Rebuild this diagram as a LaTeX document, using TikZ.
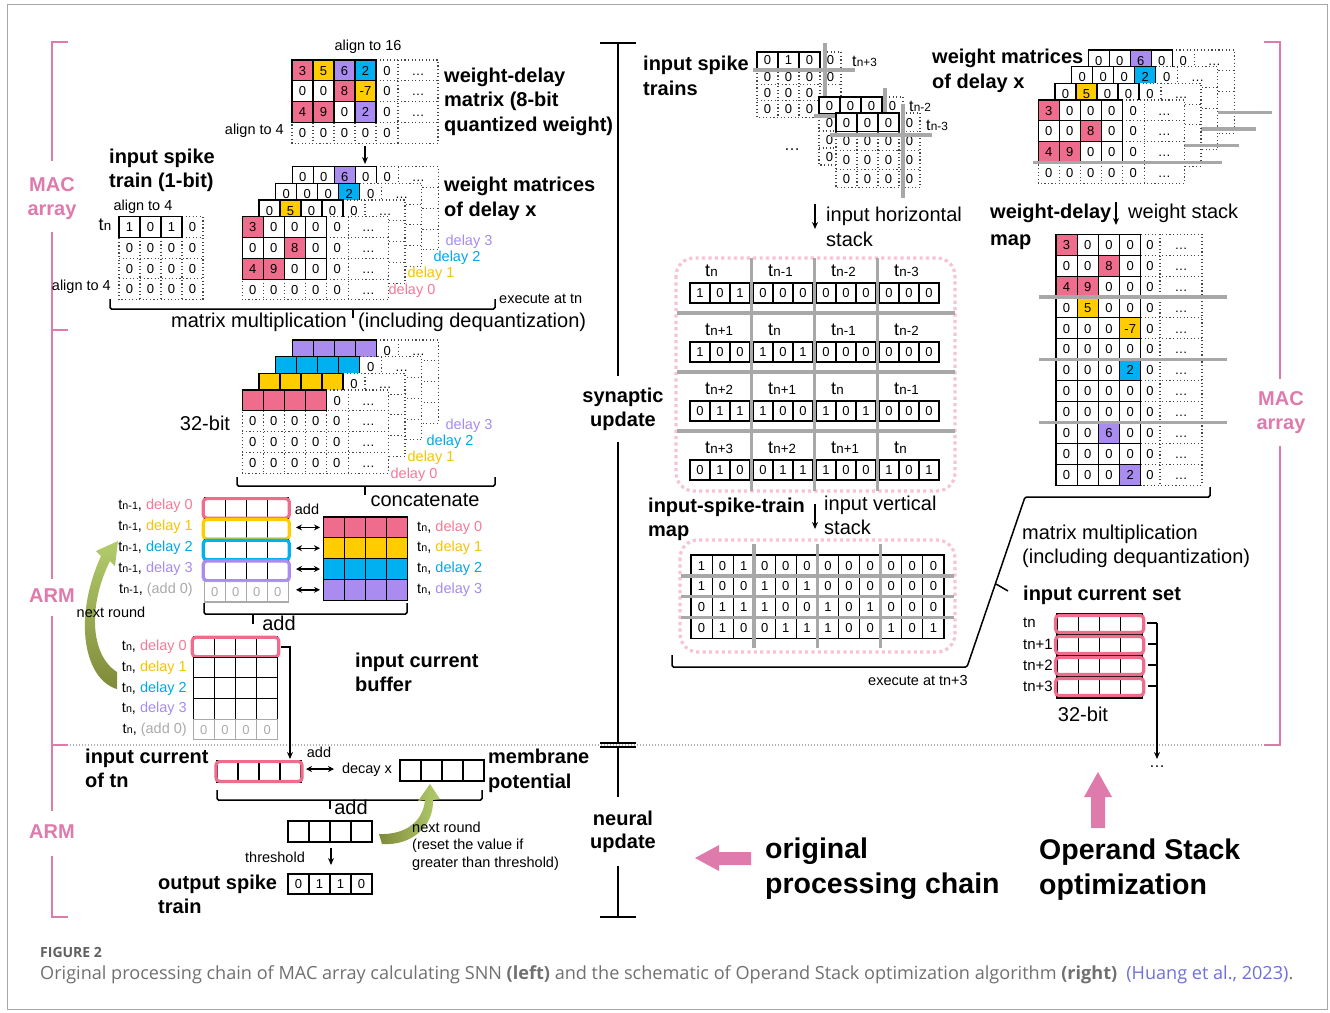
\documentclass[tikz,border=0pt]{standalone}
\usepackage{graphicx}
\usepackage{fontspec}
\setmainfont{Liberation Sans}
\newfontfamily\capfont{Open Sans}
\usetikzlibrary{arrows.meta}

\definecolor{cpink}{RGB}{240,108,140}
\definecolor{cyel}{RGB}{255,204,0}
\definecolor{cblue}{RGB}{0,176,240}
\definecolor{cpur}{RGB}{170,140,240}
\definecolor{tpink}{RGB}{246,122,152}
\definecolor{tyel}{RGB}{246,196,0}
\definecolor{tblue}{RGB}{0,168,232}
\definecolor{tpur}{RGB}{166,140,236}
\definecolor{brk}{RGB}{222,122,172}
\definecolor{sepgray}{RGB}{168,168,168}
\definecolor{olivegr}{RGB}{128,138,58}
\definecolor{lightgr}{RGB}{178,204,108}
\definecolor{dotpink}{RGB}{246,196,214}
\definecolor{capgray}{RGB}{96,96,96}
\definecolor{captext}{RGB}{112,112,112}
\definecolor{reflink}{RGB}{112,112,220}
\definecolor{zgray}{RGB}{170,170,170}

\newcommand\fs[1]{\fontsize{#1}{#1}\selectfont}
\newcommand\tsb[1]{t\kern.2pt\scalebox{0.74}{#1}}

\tikzset{
  cellS/.style={draw=black, line width=1.1pt},
  dotln/.style={draw=black!72, line width=1.15pt, dash pattern=on 1.15pt off 2.4pt},
  dig/.style={font=\fs{13}, inner sep=0pt, text height=9.3pt, text depth=0pt},
  blab/.style={font=\fs{20}\bfseries, inner sep=0pt, text height=14.4pt, text depth=4.2pt, anchor=west},
  rlab/.style={font=\fs{20}, inner sep=0pt, text height=14.4pt, text depth=4.2pt},
  slab/.style={font=\fs{14.5}, inner sep=0pt, text height=10.4pt, text depth=3pt},
  tlab/.style={font=\fs{18}, inner sep=0pt, text height=13pt, text depth=0pt},
  biglab/.style={font=\fs{28.5}\bfseries, inner sep=0pt, text height=20.5pt, text depth=6pt, anchor=west},
  sepln/.style={sepgray, line width=3.5pt},
  brace/.style={black, line width=1.5pt, rounded corners=1.5pt},
  pinkbr/.style={brk, line width=2pt},
  arr/.style={line width=1.4pt, -{Stealth[length=7pt,width=6pt]}},
  darr/.style={line width=1.4pt, {Stealth[length=6pt,width=6pt]}-{Stealth[length=6pt,width=6pt]}},
  hilite/.style={line width=3.2pt, rounded corners=3.5pt},
  pinkdots/.style={dotpink, line width=3.2pt, dash pattern=on 3.2pt off 3.2pt, rounded corners=18pt},
}

% one row of solid cells: x, y, cell width, cell height, list colour/value
\newcommand\crow[5]{%
  \foreach \cl/\vl [count=\ii from 0] in {#5}{%
    \draw[cellS, fill=\cl] ({#1+\ii*#3},{#2}) rectangle ++(#3,#4);
    \node[dig] at ({#1+(\ii+0.5)*#3},{#2+0.5*#4}) {\vl};}}

% dotted frame of a weight layer (padding column, ellipsis area, padding row)
\newcommand\wdots[2]{%
  \fill[white] (#1,#2) rectangle ++(146,83.2);
  \foreach \yy in {20.8,41.6,62.4} \draw[dotln] ({#1+84},{#2+\yy}) -- ({#1+146},{#2+\yy});
  \draw[dotln] ({#1+84},{#2}) -- ({#1+146},{#2}) -- ({#1+146},{#2+83.2}) -- ({#1},{#2+83.2}) -- ({#1},{#2+62.4});
  \draw[dotln] ({#1+106},{#2}) -- ({#1+106},{#2+83.2});
  \foreach \xx in {21,42,63,84} \draw[dotln] ({#1+\xx},{#2+62.4}) -- ({#1+\xx},{#2+83.2});}

% front weight layer: x, y, three solid rows, offsets of rows that carry dots
\newcommand\wlayer[6]{%
  \wdots{#1}{#2}%
  \foreach \yy in {0,20.8,41.6,62.4} \node[dig] at ({#1+95},{#2+\yy+10.4}) {0};
  \foreach \xx in {0,21,42,63} \node[dig] at ({#1+\xx+10.5},{#2+72.8}) {0};
  \foreach \yy in {#6} \node[dig] at ({#1+126},{#2+\yy+10.4}) {\dots};
  \crow{#1}{#2}{21}{20.8}{#3}%
  \crow{#1}{#2+20.8}{21}{20.8}{#4}%
  \crow{#1}{#2+41.6}{21}{20.8}{#5}}

% rear weight layer: only its top row shows
\newcommand\wback[3]{%
  \wdots{#1}{#2}%
  \foreach \xx in {0,21,42,63} \draw[cellS] ({#1+\xx},{#2+20.8}) rectangle ++(21,20.8);
  \node[dig] at ({#1+95},{#2+10.4}) {0};
  \node[dig] at ({#1+126},{#2+10.4}) {\dots};
  \crow{#1}{#2}{21}{20.8}{#3}}

% 32-bit result layer: x, y, colour, rows below filled with zeros (1) or not (0)
\newcommand\blayer[4]{%
  \fill[white] (#1,#2) rectangle ++(146,83.2);
  \foreach \yy in {20.8,41.6,62.4} \draw[dotln] ({#1},{#2+\yy}) -- ({#1+146},{#2+\yy});
  \draw[dotln] ({#1+84},{#2}) -- ({#1+146},{#2}) -- ({#1+146},{#2+83.2}) -- ({#1},{#2+83.2}) -- ({#1},{#2+20.8});
  \draw[dotln] ({#1+106},{#2}) -- ({#1+106},{#2+83.2});
  \foreach \xx in {21,42,63,84} \draw[dotln] ({#1+\xx},{#2+20.8}) -- ({#1+\xx},{#2+83.2});
  \node[dig] at ({#1+95},{#2+10.4}) {0};
  \node[dig] at ({#1+126},{#2+10.4}) {\dots};
  \ifnum#4=1
    \foreach \yy in {20.8,41.6,62.4} {\foreach \xx in {0,21,42,63,84} {\node[dig] at ({#1+\xx+10.5},{#2+\yy+10.4}) {0};}
      \node[dig] at ({#1+126},{#2+\yy+10.4}) {\dots};}
  \fi
  \foreach \xx in {0,21,42,63} \draw[cellS, fill=#3] ({#1+\xx},{#2}) rectangle ++(21,20.8);}

% 4x4 spike matrix, first three entries of the top row solid;
% #6 = number of visible zeros in each of the three lower rows
\newcommand\smat[6]{%
  \fill[white] (#1,#2) rectangle ++({4*#3},{4*#4});
  \draw[dotln] ({#1+3*#3},{#2}) -- ({#1+4*#3},{#2}) -- ({#1+4*#3},{#2+4*#4}) -- ({#1},{#2+4*#4}) -- ({#1},{#2+#4});
  \draw[dotln] ({#1+3*#3},{#2+#4}) -- ({#1+4*#3},{#2+#4});
  \foreach \kk in {2,3} \draw[dotln] ({#1},{#2+\kk*#4}) -- ({#1+4*#3},{#2+\kk*#4});
  \foreach \kk in {1,2,3} \draw[dotln] ({#1+\kk*#3},{#2+#4}) -- ({#1+\kk*#3},{#2+4*#4});
  \node[dig] at ({#1+3.5*#3},{#2+0.5*#4}) {0};
  \foreach \nn [count=\rr] in {#6} {\foreach \kk in {1,...,\nn} {\node[dig] at ({#1+(\kk-0.5)*#3},{#2+(\rr+0.5)*#4}) {0};}}
  \foreach \vv [count=\kk from 0] in {#5} {\draw[cellS] ({#1+\kk*#3},{#2}) rectangle ++(#3,#4);
    \node[dig] at ({#1+(\kk+0.5)*#3},{#2+0.5*#4}) {\vv};}}

% row of four empty cells framed by a coloured outline
\newcommand\hrow[5]{%
  \foreach \xx in {0,1,2,3} \draw[cellS, fill=white] ({#1+\xx*#3},{#2}) rectangle ++(#3,#4);
  \draw[hilite, draw=#5] ({#1-1},{#2+0.6}) rectangle ({#1+4*#3+1},{#2+#4-0.6});}

% grey row of zeros
\newcommand\zrow[4]{%
  \foreach \xx in {0,1,2,3} {\draw[zgray, line width=1.1pt] ({#1+\xx*#3},{#2}) rectangle ++(#3,#4);
    \node[dig, text=zgray] at ({#1+(\xx+0.5)*#3},{#2+0.5*#4}) {0};}}

\begin{document}
\begin{tikzpicture}[x=1pt,y=-1pt]
\useasboundingbox (0,0) rectangle (1330,1012);
\fill[white] (0,0) rectangle (1330,1012);
\draw[black!35, line width=0.8pt] (7,4) rectangle (1327,1009);

% ---------------- frames and section labels ----------------
\draw[pinkbr] (68,42) -- (52,42) -- (52,161);
\draw[pinkbr] (52,232) -- (52,579);
\draw[pinkbr] (52,330) -- (68,330);
\draw[pinkbr] (52,616) -- (52,811);
\draw[pinkbr] (52,745) -- (68,745);
\draw[pinkbr] (52,856) -- (52,917) -- (68,917);
\node[blab, anchor=center, text=brk] (macA) at (52,186) {MAC};
\node[blab, anchor=center, text=brk] (macB) at (52,210) {array};
\node[blab, anchor=center, text=brk] (armA) at (52,597) {ARM};
\node[blab, anchor=center, text=brk] (armB) at (52,833) {ARM};
\draw[pinkbr] (1264,42) -- (1280,42) -- (1280,379);
\draw[pinkbr] (1280,446) -- (1280,745) -- (1264,745);
\node[blab, anchor=center, text=brk] (macC) at (1281,400) {MAC};
\node[blab, anchor=center, text=brk] (macD) at (1281,424) {array};

\draw[black!30, line width=1.2pt, dash pattern=on 1.2pt off 1.8pt] (70,745) -- (1262,745);

\draw[line width=1.6pt] (600,43) -- (636,43) (618,43) -- (618,376) (618,442) -- (618,743)
  (600,743) -- (636,743) (600,747) -- (636,747) (618,747) -- (618,797) (618,866) -- (618,917) (600,917) -- (636,917);
\node[blab, anchor=center] (syn1) at (623,397) {synaptic};
\node[blab, anchor=center] (syn2) at (623,421) {update};
\node[blab, anchor=center] (neu1) at (623,820) {neural};
\node[blab, anchor=center] (neu2) at (623,843) {update};

% ---------------- left: weight-delay matrix ----------------
\node[slab] (al16) at (368,47) {align to 16};
\wlayer{292}{60}{cpink/3,cyel/5,cpur/6,cblue/2}{white/0,white/0,cpink/8,cyel/-7}{cpink/4,cpink/9,white/0,cpur/2}{0,20.8,41.6}
\node[slab, anchor=east] (al4a) at (284,131) {align to 4};
\node[blab] (wd1) at (444,77) {weight-delay};
\node[blab] (wd2) at (444,101) {matrix (8-bit};
\node[blab] (wd3) at (444,126) {quantized weight)};
\draw[arr] (365,146) -- (365,164);

% weight matrices of each delay
\wback{292.3}{166.7}{white/0,white/0,cpur/6,white/0}
\wback{275.7}{183.3}{white/0,white/0,white/0,cblue/2}
\wback{259}{200}{white/0,cyel/5,white/0,white/0}
\wlayer{242.3}{216.7}{cpink/3,white/0,white/0,white/0}{white/0,white/0,cpink/8,white/0}{cpink/4,cpink/9,white/0,white/0}{0,20.8,41.6,62.4}
\node[slab, text=tpur] (wl3) at (469,242) {delay 3};
\node[slab, text=tblue] (wl2) at (457,258) {delay 2};
\node[slab, text=tyel] (wl1) at (431,274) {delay 1};
\node[slab, text=tpink] (wl0) at (412,291) {delay 0};
\node[blab] (wm1) at (444,186) {weight matrices};
\node[blab] (wm2) at (444,211) {of delay x};

% input spike train
\node[blab] (ist1) at (109,158) {input spike};
\node[blab] (ist2) at (109,182) {train (1-bit)};
\node[slab] (al4b) at (143,207) {align to 4};
\node[tlab] (tnl) at (105,224) {\tsb{n}};
\smat{119}{216.5}{21}{20.8}{1,0,1}{4,4,4}
\node[slab, anchor=east] (al4c) at (111,287) {align to 4};

\draw[brace] (110,299) -- (110,309) -- (495,309) -- (495,299);
\draw[brace] (353,309) -- (353,318);
\node[rlab, anchor=east] (mm1) at (347,322) {matrix multiplication};
\node[rlab, anchor=west] (mm2) at (358,322) {(including dequantization)};
\node[slab, anchor=west] (ex1) at (499,300) {execute at tn};

% 32-bit products
\blayer{292.3}{340}{cpur}{0}
\blayer{275.7}{356.7}{cblue}{0}
\blayer{259}{373.3}{cyel}{0}
\blayer{242.3}{390}{cpink}{1}
\node[rlab] (b32) at (205,425) {32-bit};
\node[slab, text=tpur] (bl3) at (469,426) {delay 3};
\node[slab, text=tblue] (bl2) at (450,442) {delay 2};
\node[slab, text=tyel] (bl1) at (431,458) {delay 1};
\node[slab, text=tpink] (bl0) at (414,475) {delay 0};
\draw[brace] (237,477) -- (237,486) -- (495,486) -- (495,477);
\draw[brace] (365,486) -- (365,495);
\node[rlab] (conc) at (425,501) {concatenate};

% accumulation with the previous step
\hrow{204.3}{498}{21}{20.8}{cpink}
\hrow{204.3}{518.8}{21}{20.8}{cyel}
\hrow{204.3}{539.6}{21}{20.8}{cblue}
\hrow{204.3}{560.4}{21}{20.8}{cpur}
\zrow{204.3}{581.2}{21}{20.8}
\node[slab, anchor=east] at (193,506) {\tsb{n-1}, \textcolor{tpink}{delay 0}};
\node[slab, anchor=east] at (193,527) {\tsb{n-1}, \textcolor{tyel}{delay 1}};
\node[slab, anchor=east] at (193,548) {\tsb{n-1}, \textcolor{tblue}{delay 2}};
\node[slab, anchor=east] at (193,569) {\tsb{n-1}, \textcolor{tpur}{delay 3}};
\node[slab, anchor=east] at (193,590) {\tsb{n-1}, \textcolor{zgray}{(add 0)}};
\node[slab] (add1) at (307,511) {add};
\foreach \yy in {527.4,548.2,569,589.8} \draw[darr] (296,\yy) -- (320,\yy);
\crow{323.3}{517}{21}{20.8}{cpink/,cpink/,cpink/,cpink/}
\crow{323.3}{537.8}{21}{20.8}{cyel/,cyel/,cyel/,cyel/}
\crow{323.3}{558.6}{21}{20.8}{cblue/,cblue/,cblue/,cblue/}
\crow{323.3}{579.4}{21}{20.8}{cpur/,cpur/,cpur/,cpur/}
\node[slab, anchor=west] at (417,527.4) {\tsb{n}, \textcolor{tpink}{delay 0}};
\node[slab, anchor=west] at (417,548.2) {\tsb{n}, \textcolor{tyel}{delay 1}};
\node[slab, anchor=west] at (417,569) {\tsb{n}, \textcolor{tblue}{delay 2}};
\node[slab, anchor=west] at (417,589.8) {\tsb{n}, \textcolor{tpur}{delay 3}};
\draw[brace] (204,603) -- (204,614) -- (407,614) -- (407,603);
\draw[brace] (253,614) -- (253,624);
\node[rlab] (add2) at (279,625) {add};

% input current buffer
\hrow{193.3}{636.7}{21.1}{20.6}{cpink}
\crow{193.3}{657.3}{21.1}{20.6}{white/,white/,white/,white/}
\crow{193.3}{677.9}{21.1}{20.6}{white/,white/,white/,white/}
\crow{193.3}{698.5}{21.1}{20.6}{white/,white/,white/,white/}
\zrow{193.3}{719.1}{21.1}{20.6}
\node[slab, anchor=east] at (187,647) {\tsb{n}, \textcolor{tpink}{delay 0}};
\node[slab, anchor=east] at (187,668) {\tsb{n}, \textcolor{tyel}{delay 1}};
\node[slab, anchor=east] at (187,688.5) {\tsb{n}, \textcolor{tblue}{delay 2}};
\node[slab, anchor=east] at (187,709) {\tsb{n}, \textcolor{tpur}{delay 3}};
\node[slab, anchor=east] at (187,730) {\tsb{n}, \textcolor{zgray}{(add 0)}};
\node[blab] (icb1) at (355,662) {input current};
\node[blab] (icb2) at (355,686) {buffer};
\draw[arr] (281,647) -- (290,647) -- (290,759);

% feedback to the next round
\shade[top color=lightgr, bottom color=olivegr]
  (117,689) .. controls (85,680) and (72,620) .. (101,556) -- (96,551) -- (118,541)
  -- (115,566) -- (110,561) .. controls (88,605) and (90,655) .. (117,672) -- cycle;
\node[slab] (nr1) at (111,614) {next round};

% ---------------- neural update ----------------
\node[blab] (ic1) at (85,758) {input current};
\node[blab] (ic2) at (85,782) {of tn};
\hrow{217}{761}{21}{21}{cpink}
\node[slab] (add3) at (319,754) {add};
\draw[darr] (306,769) -- (334,769);
\node[slab] (dec) at (367,770) {decay x};
\crow{400}{760}{21}{21}{white/,white/,white/,white/}
\node[blab] (mp1) at (488,758) {membrane};
\node[blab] (mp2) at (488,783) {potential};
\draw[brace] (217,790) -- (217,800) -- (482,800) -- (482,790);
\draw[brace] (330,800) -- (330,809);
\node[rlab] (add4) at (351,809) {add};
\crow{288}{821}{21}{21}{white/,white/,white/,white/}
\draw[arr] (331,848) -- (331,865);
\node[slab] (thr) at (275,859) {threshold};
\crow{288}{874}{21}{20}{white/0,white/1,white/1,white/0}
\node[blab] (os1) at (158,884) {output spike};
\node[blab] (os2) at (158,908) {train};
\shade[left color=olivegr, right color=lightgr]
  (379,834) .. controls (405,835) and (423,822) .. (425,800) -- (418,801) -- (430,784)
  -- (440,799) -- (433,800) .. controls (434,826) and (412,846) .. (382,844) -- cycle;
\node[slab, anchor=west] (nr2) at (412,829) {next round};
\node[slab, anchor=west] (nr3) at (412,846) {(reset the value if};
\node[slab, anchor=west] (nr4) at (412,864) {greater than threshold)};

% ---------------- right: input spike trains ----------------
\node[blab] (ists1) at (643,65) {input spike};
\node[blab] (ists2) at (643,90) {trains};
\smat{757}{52}{21}{16.3}{0,1,0}{4,3,3}
\draw[sepln] (825,43) -- (825,118);
\draw[sepln] (753,70) -- (855,70);
\node[font=\fs{16}, inner sep=0pt, anchor=west] (tp3) at (852,61) {\tsb{n+3}};
\smat{819}{97}{21}{17}{0,0,0}{1,1,1}
\draw[sepln] (885,88) -- (885,150);
\draw[sepln] (814,116) -- (860,116);
\node[font=\fs{16}, inner sep=0pt, anchor=west] (tm2) at (909,106) {\tsb{n-2}};
\smat{836}{113}{21}{18.7}{0,0,0}{4,4,4}
\draw[sepln] (903,104) -- (903,198);
\draw[sepln] (830,135) -- (932,135);
\node[font=\fs{16}, inner sep=0pt, anchor=west] (tm3) at (926,125) {\tsb{n-3}};
\node[font=\fs{16}, inner sep=0pt] (ell1) at (792,150) {\dots};

% right: weight matrices of each delay
\node[blab] (rwm1) at (932,58) {weight matrices};
\node[blab] (rwm2) at (932,83) {of delay x};
\wback{1088.3}{50}{white/0,white/0,cpur/6,white/0}
\draw[sepln] (1083,112.4) -- (1272,112.4);
\wback{1071.7}{66.7}{white/0,white/0,white/0,cblue/2}
\draw[sepln] (1067,129.1) -- (1256,129.1);
\wback{1055}{83.3}{white/0,cyel/5,white/0,white/0}
\draw[sepln] (1050,145.7) -- (1239,145.7);
\wlayer{1038.3}{100}{cpink/3,white/0,white/0,white/0}{white/0,white/0,cpink/8,white/0}{cpink/4,cpink/9,white/0,white/0}{0,20.8,41.6,62.4}
\draw[sepln] (1033,162.4) -- (1222,162.4);

% horizontal stack
\draw[arr] (815,204) -- (815,229);
\node[rlab, anchor=west] (ihs1) at (826,216) {input horizontal};
\node[rlab, anchor=west] (ihs2) at (826,241) {stack};
\draw[pinkdots] (676,258) rectangle (955,491);
\foreach \rowv [count=\bk from 0] in {{1,0,1,0,0,0,0,0,0,0,0,0},{1,0,0,1,0,1,0,0,0,0,0,0},{0,1,1,1,0,0,1,0,1,0,0,0},{0,1,0,0,1,1,1,0,0,1,0,1}}{
  \foreach \vv [count=\kk from 0] in \rowv {
    \pgfmathsetmacro\gx{690+63*floor(\kk/3)+20*mod(\kk,3)}
    \draw[cellS] (\gx,{283+59*\bk}) rectangle ++(20,20);
    \node[dig] at ({\gx+10},{293+59*\bk}) {\vv};}}
\foreach \yy in {313,372,431} \draw[sepln] (677,\yy) -- (955,\yy);
\foreach \xx in {751.5,814.5,877.5} \draw[sepln] (\xx,258) -- (\xx,491);
\foreach \a/\b/\c/\d [count=\bk from 0] in {n/n-1/n-2/n-3, n+1/n/n-1/n-2, n+2/n+1/n/n-1, n+3/n+2/n+1/n}{
  \node[tlab, anchor=west] at (705,{270+59*\bk}) {\tsb{\a}};
  \node[tlab, anchor=west] at (768,{270+59*\bk}) {\tsb{\b}};
  \node[tlab, anchor=west] at (831,{270+59*\bk}) {\tsb{\c}};
  \node[tlab, anchor=west] at (894,{270+59*\bk}) {\tsb{\d}};}

% vertical stack
\node[blab] (istm1) at (648,507) {input-spike-train};
\node[blab] (istm2) at (648,531) {map};
\draw[arr] (815,504) -- (815,529);
\node[rlab, anchor=west] (ivs1) at (824,505) {input vertical};
\node[rlab, anchor=west] (ivs2) at (824,529) {stack};
\draw[pinkdots] (680,540) rectangle (955,652);
\foreach \rowv [count=\bk from 0] in {{1,0,1,0,0,0,0,0,0,0,0,0},{1,0,0,1,0,1,0,0,0,0,0,0},{0,1,1,1,0,0,1,0,1,0,0,0},{0,1,0,0,1,1,1,0,0,1,0,1}}{
  \foreach \vv [count=\kk from 0] in \rowv {
    \draw[cellS] ({691+21.08*\kk},{555+20.8*\bk}) rectangle ++(21.08,20.8);
    \node[dig] at ({701.5+21.08*\kk},{565.4+20.8*\bk}) {\vv};}}
\foreach \yy in {575.8,596.6,617.4} \draw[sepln] (681,\yy) -- (954,\yy);
\foreach \xx in {754.2,817.5,880.7} \draw[sepln] (\xx,544) -- (\xx,648);

% weight stack
\node[blab] (wdm1) at (990,213) {weight-delay};
\node[blab] (wdm2) at (990,240) {map};
\draw[arr] (1116,202) -- (1116,225);
\node[rlab, anchor=west] (wst) at (1128,213) {weight stack};
\fill[white] (1056,234.3) rectangle (1202,485.1);
\foreach \rr in {1,...,11} \draw[dotln] (1141,{234.3+20.9*\rr}) -- (1202,{234.3+20.9*\rr});
\draw[dotln] (1141,234.3) -- (1202,234.3) -- (1202,485.1) -- (1141,485.1);
\draw[dotln] (1160,234.3) -- (1160,485.1);
\foreach \rr in {0,...,11} {\node[dig] at (1150,{244.75+20.9*\rr}) {0};
  \node[dig] at (1181,{244.75+20.9*\rr}) {\dots};}
\crow{1056}{234.3}{21.2}{20.9}{cpink/3,white/0,white/0,white/0}
\crow{1056}{255.2}{21.2}{20.9}{white/0,white/0,cpink/8,white/0}
\crow{1056}{276.1}{21.2}{20.9}{cpink/4,cpink/9,white/0,white/0}
\crow{1056}{297.0}{21.2}{20.9}{white/0,cyel/5,white/0,white/0}
\crow{1056}{317.9}{21.2}{20.9}{white/0,white/0,white/0,cyel/-7}
\crow{1056}{338.8}{21.2}{20.9}{white/0,white/0,white/0,white/0}
\crow{1056}{359.7}{21.2}{20.9}{white/0,white/0,white/0,cblue/2}
\crow{1056}{380.6}{21.2}{20.9}{white/0,white/0,white/0,white/0}
\crow{1056}{401.5}{21.2}{20.9}{white/0,white/0,white/0,white/0}
\crow{1056}{422.4}{21.2}{20.9}{white/0,white/0,cpur/6,white/0}
\crow{1056}{443.3}{21.2}{20.9}{white/0,white/0,white/0,white/0}
\crow{1056}{464.2}{21.2}{20.9}{white/0,white/0,white/0,cpur/2}
\foreach \yy in {297,359.7,422.4} \draw[sepln] (1039,\yy) -- (1227,\yy);

% matrix multiplication of both stacks
\draw[brace] (1210,487) -- (1210,497) -- (1025,497) -- (967,667) -- (672,667) -- (672,655);
\draw[brace] (996,584) -- (1008,591);
\node[slab] (ex2) at (918,682) {execute at tn+3};
\node[rlab, anchor=west] (rmm1) at (1022,534) {matrix multiplication};
\node[rlab, anchor=west] (rmm2) at (1022,558) {(including dequantization)};
\node[blab] (ics) at (1023,595) {input current set};
\foreach \rr in {0,1,2,3} {\foreach \kk in {0,1,2,3} {\draw[cellS, fill=white] ({1057+21.3*\kk},{614+21*\rr}) rectangle ++(21.3,21);}}
\foreach \rr in {0,1,2,3} \draw[hilite, draw=cpink] (1055.5,{615.5+21*\rr}) rectangle (1143.7,{632.5+21*\rr});
\foreach \lb [count=\rr from 0] in {tn,tn+1,tn+2,tn+3} \node[font=\fs{15}, inner sep=0pt, anchor=west] at (1023,{623+21*\rr}) {\lb};
\draw[line width=1.4pt] (1147,623) -- (1157,623);
\foreach \yy in {644,665,686} \draw[line width=1.4pt] (1148,\yy) -- (1157,\yy);
\draw[arr] (1157,623) -- (1157,759);
\node[rlab] (r32) at (1083,716) {32-bit};
\node[font=\fs{16}, inner sep=0pt] (ell2) at (1157,767) {\dots};

% ---------------- comparison arrows ----------------
\fill[brk] (695,858) -- (719,845) -- (719,852) -- (751,852) -- (751,865) -- (719,865) -- (719,871) -- cycle;
\node[biglab] (opc1) at (765,851) {original};
\node[biglab] (opc2) at (765,886) {processing chain};
\fill[brk] (1098,772) -- (1112,797) -- (1105,797) -- (1105,828) -- (1091,828) -- (1091,797) -- (1084,797) -- cycle;
\node[biglab] (oso1) at (1039,852) {Operand Stack};
\node[biglab] (oso2) at (1039,887) {optimization};

% ---------------- caption ----------------
\node[anchor=west, inner sep=0pt, font=\capfont\fs{14}\bfseries, text=capgray] (fig) at (40,952) {FIGURE 2};
\node[anchor=west, inner sep=0pt, font=\capfont\fs{18.1}, text=captext] (cap) at (40,975)
  {Original processing chain of MAC array calculating SNN \textbf{(left)} and the schematic of Operand Stack optimization algorithm \textbf{(right)}\enspace\textcolor{reflink}{(Huang et al., 2023)}.};
\end{tikzpicture}
\end{document}
